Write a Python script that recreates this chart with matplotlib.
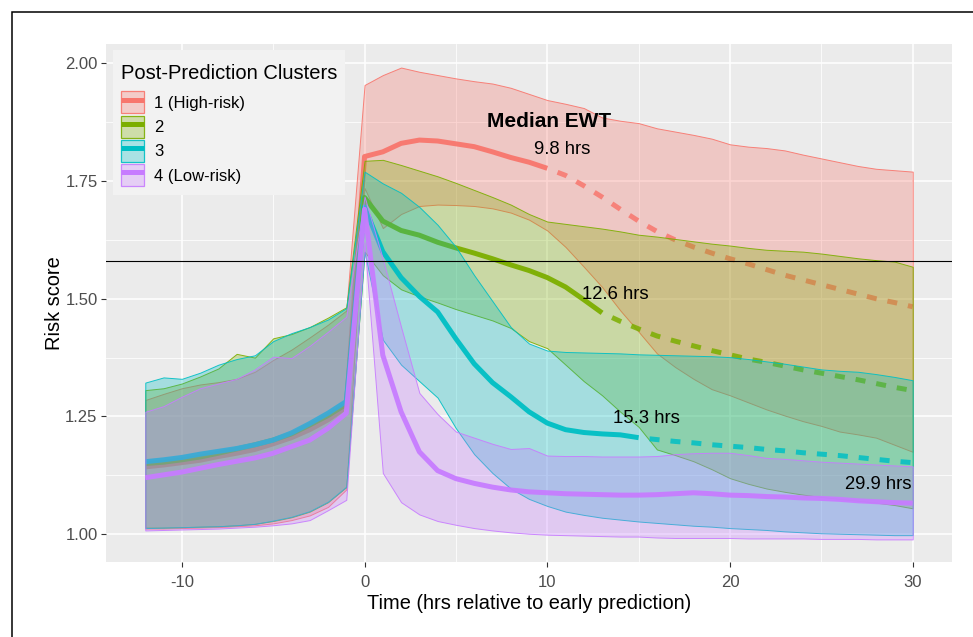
import numpy as np
import matplotlib
matplotlib.use("Agg")
import matplotlib.pyplot as plt
from matplotlib.patches import Patch, Rectangle
from matplotlib.lines import Line2D
from matplotlib.legend_handler import HandlerTuple
from matplotlib.colors import to_rgba

plt.rcParams['font.family'] = ['Liberation Sans', 'DejaVu Sans']
plt.rcParams['axes.unicode_minus'] = False

# ---------------- data ----------------
hours = list(range(-12, 31))

cluster_labels = ['1 (High-risk)', '2', '3', '4 (Low-risk)']
colors = ['#F8766D', '#7CAE00', '#00BFC4', '#C77CFF']
ewt_labels = ['9.8 hrs', '12.6 hrs', '15.3 hrs', '29.9 hrs']
ewt_end_hour = [10, 13, 15, 30]
threshold = 1.58

median_1 = [1.143, 1.147, 1.152, 1.157, 1.165, 1.172, 1.180, 1.192, 1.205, 1.222, 1.243, 1.270,
            1.802, 1.812, 1.830, 1.837, 1.835, 1.829, 1.823, 1.812, 1.800, 1.790, 1.777, 1.762,
            1.740, 1.716, 1.690, 1.665, 1.643, 1.625, 1.610, 1.597, 1.585, 1.574, 1.562, 1.550,
            1.540, 1.530, 1.520, 1.510, 1.500, 1.492, 1.483]
lower_1 = [1.012, 1.012, 1.013, 1.014, 1.015, 1.017, 1.019, 1.023, 1.030, 1.040, 1.058, 1.095,
           1.735, 1.650, 1.680, 1.697, 1.700, 1.699, 1.697, 1.692, 1.683, 1.668, 1.645, 1.610,
           1.568, 1.525, 1.475, 1.430, 1.384, 1.355, 1.330, 1.308, 1.295, 1.280, 1.265, 1.252,
           1.240, 1.230, 1.218, 1.212, 1.205, 1.190, 1.175]
upper_1 = [1.285, 1.298, 1.310, 1.318, 1.323, 1.330, 1.345, 1.370, 1.392, 1.418, 1.445, 1.475,
           1.954, 1.975, 1.991, 1.982, 1.975, 1.968, 1.962, 1.957, 1.948, 1.935, 1.922, 1.914,
           1.905, 1.885, 1.878, 1.873, 1.862, 1.855, 1.848, 1.840, 1.828, 1.823, 1.820, 1.815,
           1.806, 1.798, 1.790, 1.782, 1.776, 1.773, 1.770]

median_2 = [1.150, 1.153, 1.158, 1.164, 1.172, 1.181, 1.190, 1.200, 1.213, 1.232, 1.252, 1.276,
            1.715, 1.665, 1.645, 1.635, 1.620, 1.608, 1.597, 1.585, 1.572, 1.560, 1.545, 1.525,
            1.498, 1.470, 1.452, 1.436, 1.421, 1.410, 1.400, 1.390, 1.381, 1.372, 1.365, 1.357,
            1.349, 1.342, 1.335, 1.328, 1.320, 1.312, 1.305]
lower_2 = [1.014, 1.014, 1.015, 1.016, 1.017, 1.019, 1.022, 1.028, 1.036, 1.048, 1.068, 1.100,
           1.600, 1.550, 1.520, 1.505, 1.492, 1.478, 1.466, 1.454, 1.438, 1.410, 1.395, 1.360,
           1.325, 1.295, 1.260, 1.228, 1.180, 1.168, 1.155, 1.138, 1.119, 1.107, 1.097, 1.090,
           1.084, 1.079, 1.075, 1.071, 1.067, 1.062, 1.055]
upper_2 = [1.306, 1.310, 1.320, 1.335, 1.352, 1.383, 1.375, 1.416, 1.425, 1.440, 1.460, 1.482,
           1.793, 1.795, 1.784, 1.772, 1.760, 1.746, 1.731, 1.716, 1.700, 1.680, 1.664, 1.659,
           1.654, 1.649, 1.643, 1.636, 1.632, 1.627, 1.622, 1.617, 1.613, 1.608, 1.604, 1.602,
           1.600, 1.596, 1.591, 1.586, 1.582, 1.579, 1.568]

median_3 = [1.154, 1.158, 1.163, 1.170, 1.176, 1.182, 1.190, 1.200, 1.215, 1.235, 1.257, 1.282,
            1.695, 1.600, 1.545, 1.505, 1.472, 1.415, 1.362, 1.322, 1.292, 1.260, 1.236, 1.222,
            1.216, 1.213, 1.211, 1.205, 1.201, 1.197, 1.194, 1.190, 1.187, 1.184, 1.180, 1.177,
            1.173, 1.170, 1.167, 1.163, 1.159, 1.155, 1.152]
lower_3 = [1.013, 1.014, 1.015, 1.016, 1.017, 1.019, 1.022, 1.029, 1.037, 1.049, 1.069, 1.101,
           1.600, 1.413, 1.360, 1.325, 1.290, 1.225, 1.170, 1.130, 1.097, 1.075, 1.060, 1.048,
           1.041, 1.035, 1.031, 1.027, 1.024, 1.021, 1.018, 1.016, 1.013, 1.011, 1.009, 1.006,
           1.004, 1.002, 1.001, 1.000, 0.999, 0.998, 0.998]
upper_3 = [1.322, 1.333, 1.330, 1.343, 1.360, 1.372, 1.380, 1.410, 1.427, 1.440, 1.456, 1.480,
           1.770, 1.745, 1.725, 1.695, 1.657, 1.610, 1.550, 1.495, 1.440, 1.405, 1.390, 1.387,
           1.386, 1.385, 1.384, 1.382, 1.381, 1.380, 1.379, 1.378, 1.376, 1.372, 1.367, 1.362,
           1.356, 1.350, 1.347, 1.345, 1.340, 1.334, 1.327]

median_4 = [1.120, 1.126, 1.132, 1.140, 1.148, 1.155, 1.162, 1.172, 1.186, 1.200, 1.225, 1.257,
            1.690, 1.380, 1.260, 1.175, 1.135, 1.118, 1.108, 1.100, 1.094, 1.090, 1.088, 1.086,
            1.085, 1.084, 1.083, 1.083, 1.084, 1.086, 1.088, 1.086, 1.083, 1.082, 1.080, 1.079,
            1.077, 1.076, 1.074, 1.071, 1.069, 1.067, 1.066]
lower_4 = [1.008, 1.009, 1.010, 1.011, 1.012, 1.014, 1.016, 1.019, 1.023, 1.030, 1.051, 1.073,
           1.620, 1.130, 1.068, 1.042, 1.028, 1.020, 1.013, 1.008, 1.004, 1.001, 0.999, 0.998,
           0.997, 0.996, 0.995, 0.995, 0.993, 0.992, 0.992, 0.992, 0.992, 0.991, 0.991, 0.991,
           0.991, 0.990, 0.990, 0.990, 0.989, 0.989, 0.989]
upper_4 = [1.260, 1.272, 1.292, 1.310, 1.320, 1.330, 1.350, 1.377, 1.374, 1.400, 1.430, 1.462,
           1.717, 1.585, 1.440, 1.300, 1.255, 1.218, 1.205, 1.192, 1.181, 1.183, 1.167, 1.166,
           1.166, 1.165, 1.165, 1.165, 1.166, 1.170, 1.172, 1.173, 1.173, 1.168, 1.162, 1.160,
           1.157, 1.154, 1.152, 1.150, 1.148, 1.146, 1.144]

medians = [median_1, median_2, median_3, median_4]
lowers = [lower_1, lower_2, lower_3, lower_4]
uppers = [upper_1, upper_2, upper_3, upper_4]

# EWT text positions (data coords)
ewt_text_x = [10.8, 13.7, 15.45, 28.1]
ewt_text_y = [1.817, 1.508, 1.246, 1.105]

# ---------------- figure ----------------
W, H = 973, 637
fig = plt.figure(figsize=(W / 100, H / 100), dpi=100)
fig.patch.set_facecolor('white')
ax = fig.add_axes([106 / W, (H - 562) / H, (952 - 106) / W, (562 - 44) / H])
ax.set_facecolor('#EBEBEB')
for s in ax.spines.values():
    s.set_visible(False)

t = np.array(hours, dtype=float)
for k in range(4):
    c = colors[k]
    med = np.array(medians[k])
    lo = np.array(lowers[k])
    up = np.array(uppers[k])
    z = 2 + k
    ax.fill_between(t, lo, up, facecolor=to_rgba(c, 0.3), edgecolor=to_rgba(c, 0.9),
                    linewidth=0.7, zorder=z)
    end = ewt_end_hour[k]
    solid = t <= end
    ax.plot(t[solid], med[solid], color=c, lw=3.6, solid_capstyle='butt',
            solid_joinstyle='round', zorder=z + 0.3, alpha=0.95)
    if end < 30:
        dashed = t >= end
        ax.plot(t[dashed], med[dashed], color=c, lw=3.6, alpha=0.85,
                linestyle=(2.0, (2.0, 2.2)), dash_capstyle='butt', zorder=z + 0.3)
    ax.text(ewt_text_x[k], ewt_text_y[k], ewt_labels[k], fontsize=13.3, ha='center',
            va='center', color='black', zorder=10)

ax.text(10.12, 1.876, 'Median EWT', fontsize=15, fontweight='bold', ha='center',
        va='center', color='black', zorder=10)

ax.axhline(threshold, color='black', lw=0.8, zorder=9)

ax.set_xlim(-14.15, 32.15)
ax.set_ylim(0.941, 2.041)
ax.set_xticks([-10, 0, 10, 20, 30])
ax.set_xticklabels(['-10', '0', '10', '20', '30'])
ax.set_yticks([1.00, 1.25, 1.50, 1.75, 2.00])
ax.set_yticklabels(['1.00', '1.25', '1.50', '1.75', '2.00'])
ax.set_xticks([-5, 5, 15, 25], minor=True)
ax.set_yticks([1.125, 1.375, 1.625, 1.875], minor=True)
ax.set_axisbelow(True)
ax.grid(which='major', color='white', lw=1.1)
ax.grid(which='minor', color='white', lw=0.55)
ax.tick_params(which='major', length=3.6, width=0.8, color='#333333',
               labelsize=12, labelcolor='#4D4D4D')
ax.tick_params(axis='x', which='major', pad=5.5)
ax.tick_params(axis='y', which='major', pad=2.5)
ax.tick_params(which='minor', length=0)

ax.set_xlabel('Time (hrs relative to early prediction)', fontsize=14.4, color='black', labelpad=3)
ax.set_ylabel('Risk score', fontsize=14.4, color='black', labelpad=1)

# legend background (drawn by hand)
fig.add_artist(Rectangle((113 / W, 1 - 195 / H), (345 - 113) / W, (195 - 50) / H,
                         transform=fig.transFigure, facecolor='#F2F2F2', edgecolor='none',
                         zorder=19))

handles = []
for k in range(4):
    c = colors[k]
    handles.append((Patch(facecolor=to_rgba(c, 0.3), edgecolor=to_rgba(c, 0.9), lw=0.9),
                    Line2D([], [], color=c, lw=3.6, solid_capstyle='butt')))
leg = fig.legend(handles, cluster_labels, handler_map={tuple: HandlerTuple(ndivide=1)},
                 loc='upper left', bbox_to_anchor=(121 / W, 1 - 64 / H),
                 bbox_transform=fig.transFigure, borderaxespad=0,
                 title='Post-Prediction Clusters', title_fontsize=14.5, fontsize=12,
                 frameon=False, handlelength=1.4, handleheight=1.65,
                 labelspacing=0.14, handletextpad=0.6, borderpad=0.0, alignment='left')
leg._legend_box.sep = 6
leg.set_zorder(20)

# outer frame
fig.add_artist(Rectangle((12 / W, -0.1), 1.2, (H - 12.3) / H + 0.1, transform=fig.transFigure,
                         fill=False, edgecolor='black', lw=1.1))

fig.savefig('out.png', dpi=100)
